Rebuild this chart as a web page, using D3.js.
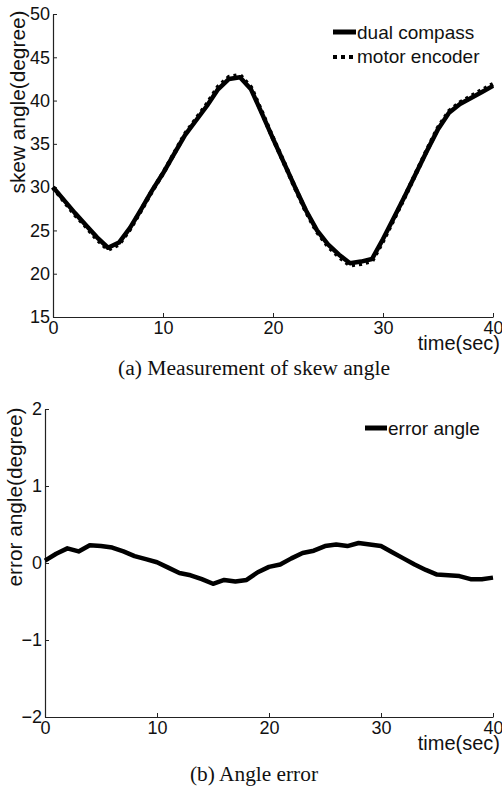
<!DOCTYPE html>
<html>
<head>
<meta charset="utf-8">
<script src="https://cdn.jsdelivr.net/npm/d3@7"></script>
<style>
  body { margin: 0; background: #fff; }
  svg { display: block; }
</style>
</head>
<body>
<div id="chart"></div>
<script>
// time axis, one sample per second
const timeSec = d3.range(0, 41);

// (a) skew angle, degrees
const dualCompass = [
  30.0, 28.5, 27.0, 25.6, 24.2, 23.0, 23.6, 25.3, 27.4, 29.6,
  31.6, 33.8, 36.0, 37.7, 39.4, 41.3, 42.5, 42.7, 41.3, 38.5,
  35.6, 32.8, 30.0, 27.3, 25.0, 23.4, 22.2, 21.2, 21.4, 21.7,
  24.0, 26.5, 29.0, 31.6, 34.2, 36.7, 38.6, 39.6, 40.3, 41.0, 41.7
];
const motorEncoder = [
  29.97, 28.38, 26.81, 25.45, 23.97, 22.78, 23.40, 25.15, 27.31, 29.55,
  31.59, 33.86, 36.13, 37.86, 39.61, 41.57, 42.72, 42.94, 41.52, 38.62,
  35.65, 32.82, 29.94, 27.17, 24.84, 23.18, 21.96, 20.98, 21.14, 21.46,
  23.78, 26.36, 28.94, 31.62, 34.29, 36.85, 38.76, 39.77, 40.51, 41.21, 41.89
];

// (b) error angle, degrees
const errorAngle = [
  0.03, 0.12, 0.19, 0.15, 0.23, 0.22, 0.20, 0.15, 0.09, 0.05,
  0.01, -0.06, -0.13, -0.16, -0.21, -0.27, -0.22, -0.24, -0.22, -0.12,
  -0.05, -0.02, 0.06, 0.13, 0.16, 0.22, 0.24, 0.22, 0.26, 0.24,
  0.22, 0.14, 0.06, -0.02, -0.09, -0.15, -0.16, -0.17, -0.21, -0.21, -0.19
];

const xTicks = [0, 10, 20, 30, 40];
const skewTicks = [15, 20, 25, 30, 35, 40, 45, 50];
const errTicks = [-2, -1, 0, 1, 2];

const W = 502, H = 791;
const sans = "'Liberation Sans', Arial, sans-serif";
const serif = "'Liberation Serif', 'Times New Roman', serif";

const svg = d3.select("#chart").append("svg")
  .attr("width", W).attr("height", H);
svg.append("rect").attr("width", W).attr("height", H).attr("fill", "#fff");

function panel(opt) {
  const x = d3.scaleLinear().domain([0, 40]).range([opt.left, opt.right]);
  const y = d3.scaleLinear().domain(opt.yDomain).range([opt.bottom, opt.top]);
  const g = svg.append("g");

  // axes, MATLAB style: ticks pointing inward, no box
  const ax = g.append("g")
    .attr("transform", `translate(0,${opt.bottom})`)
    .call(d3.axisBottom(x).tickValues(xTicks).tickFormat(d3.format("d"))
      .tickSizeInner(-4).tickSizeOuter(0).tickPadding(4));
  const ay = g.append("g")
    .attr("transform", `translate(${opt.left},0)`)
    .call(d3.axisLeft(y).tickValues(opt.yTicks).tickFormat(d3.format("d"))
      .tickSizeInner(-4).tickSizeOuter(0).tickPadding(3));
  [ax, ay].forEach(a => {
    a.select(".domain").attr("stroke", "#222").attr("stroke-width", 1.2);
    a.selectAll(".tick line").attr("stroke", "#222");
    a.selectAll("text")
      .attr("font-family", sans).attr("font-size", "18px").attr("fill", "#111");
  });

  // x label
  g.append("text")
    .attr("x", 500).attr("y", opt.bottom + 33)
    .attr("text-anchor", "end")
    .attr("font-family", sans).attr("font-size", "20px").attr("fill", "#111")
    .text("time(sec)");

  // y label
  g.append("text")
    .attr("transform", `translate(${opt.ylabX},${opt.ylabY}) rotate(-90)`)
    .attr("text-anchor", "middle")
    .attr("font-family", sans).attr("font-size", "20px").attr("fill", "#111")
    .attr("textLength", opt.ylabLen).attr("lengthAdjust", "spacingAndGlyphs")
    .text(opt.ylab);

  // caption
  g.append("text")
    .attr("x", opt.capX).attr("y", opt.capY)
    .attr("text-anchor", "middle")
    .attr("font-family", serif).attr("font-size", "20px").attr("fill", "#111")
    .attr("textLength", opt.capLen).attr("lengthAdjust", "spacingAndGlyphs")
    .text(opt.caption);

  return {x, y, g};
}

// (a) skew angle
const pa = panel({
  left: 53, right: 493, top: 14, bottom: 317,
  yDomain: [15, 50], yTicks: skewTicks,
  ylab: "skew angle(degree)", ylabX: 25, ylabY: 102, ylabLen: 183,
  caption: "(a) Measurement of skew angle", capX: 254, capY: 375, capLen: 272
});

const lineA = d3.line().x((d, i) => pa.x(timeSec[i])).y(d => pa.y(d));
pa.g.append("path").datum(motorEncoder)
  .attr("d", lineA).attr("fill", "none")
  .attr("stroke", "#000").attr("stroke-width", 4.5)
  .attr("stroke-dasharray", "3,4");
pa.g.append("path").datum(dualCompass)
  .attr("d", lineA).attr("fill", "none")
  .attr("stroke", "#000").attr("stroke-width", 4.5)
  .attr("stroke-linejoin", "round");

// legend (a)
const legA = pa.g.append("g");
legA.append("line").attr("x1", 333).attr("x2", 356).attr("y1", 32).attr("y2", 32)
  .attr("stroke", "#000").attr("stroke-width", 5);
legA.append("line").attr("x1", 333).attr("x2", 356).attr("y1", 57).attr("y2", 57)
  .attr("stroke", "#000").attr("stroke-width", 4).attr("stroke-dasharray", "4,4");
legA.append("text").attr("x", 357).attr("y", 39)
  .attr("font-family", sans).attr("font-size", "19px").attr("fill", "#111")
  .text("dual compass");
legA.append("text").attr("x", 357).attr("y", 63)
  .attr("font-family", sans).attr("font-size", "19px").attr("fill", "#111")
  .text("motor encoder");

// (b) error angle
const pb = panel({
  left: 45, right: 493, top: 409, bottom: 717,
  yDomain: [-2, 2], yTicks: errTicks,
  ylab: "error angle(degree)", ylabX: 22, ylabY: 497, ylabLen: 179,
  caption: "(b) Angle error", capX: 254, capY: 781, capLen: 128
});

pb.g.append("path").datum(errorAngle)
  .attr("d", d3.line().x((d, i) => pb.x(timeSec[i])).y(d => pb.y(d)))
  .attr("fill", "none")
  .attr("stroke", "#000").attr("stroke-width", 4.5)
  .attr("stroke-linejoin", "round");

// legend (b)
const legB = pb.g.append("g");
legB.append("line").attr("x1", 365).attr("x2", 387).attr("y1", 428).attr("y2", 428)
  .attr("stroke", "#000").attr("stroke-width", 5);
legB.append("text").attr("x", 388).attr("y", 435)
  .attr("font-family", sans).attr("font-size", "19px").attr("fill", "#111")
  .text("error angle");
</script>
</body>
</html>
